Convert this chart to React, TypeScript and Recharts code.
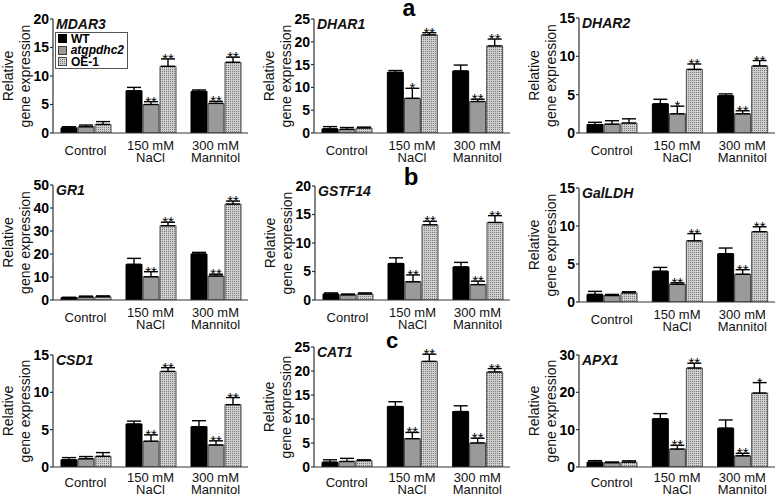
import { BarChart, Bar, XAxis, YAxis, ErrorBar, LabelList, Legend } from 'recharts';

const FONT = '"Liberation Sans", Arial, sans-serif';

const CONDITIONS = ['Control', '150 mM|NaCl', '300 mM|Mannitol'];
const GENOTYPES = ['WT', 'atgpdhc2', 'OE-1'];

// rows: WT, atgpdhc2, OE-1 ; columns: Control, NaCl, Mannitol
const MDAR3_MEAN = [[0.9, 7.4, 7.3], [1.1, 5.0, 5.2], [1.5, 11.7, 12.4]];
const MDAR3_ERR = [[0.2, 0.6, 0.25], [0.3, 0.5, 0.35], [0.5, 1.3, 0.9]];
const MDAR3_SIG = [['', '', ''], ['', '**', '**'], ['', '**', '**']];

const DHAR1_MEAN = [[0.9, 13.3, 13.6], [0.8, 7.6, 6.9], [1.1, 21.5, 19.1]];
const DHAR1_ERR = [[0.5, 0.4, 1.3], [0.4, 2.2, 0.5], [0.2, 0.5, 1.5]];
const DHAR1_SIG = [['', '', ''], ['', '*', '**'], ['', '**', '**']];

const DHAR2_MEAN = [[1.1, 3.8, 4.85], [1.15, 2.5, 2.5], [1.3, 8.3, 8.75]];
const DHAR2_ERR = [[0.3, 0.6, 0.25], [0.45, 1.0, 0.4], [0.55, 0.7, 0.7]];
const DHAR2_SIG = [['', '', ''], ['', '*', '**'], ['', '**', '**']];

const GR1_MEAN = [[1.0, 15.5, 20.0], [1.3, 10.1, 10.4], [1.4, 32.3, 41.7]];
const GR1_ERR = [[0.2, 2.6, 0.7], [0.4, 2.2, 0.8], [0.4, 1.5, 1.3]];
const GR1_SIG = [['', '', ''], ['', '**', '**'], ['', '**', '**']];

const GSTF14_MEAN = [[1.05, 6.4, 5.8], [0.9, 3.2, 2.7], [1.05, 13.2, 13.6]];
const GSTF14_ERR = [[0.2, 1.0, 0.8], [0.15, 1.2, 0.6], [0.2, 0.6, 1.2]];
const GSTF14_SIG = [['', '', ''], ['', '**', '**'], ['', '**', '**']];

const GALLDH_MEAN = [[1.0, 4.05, 6.35], [0.85, 2.33, 3.65], [1.2, 8.05, 9.25]];
const GALLDH_ERR = [[0.4, 0.5, 0.75], [0.15, 0.2, 0.6], [0.15, 0.95, 0.65]];
const GALLDH_SIG = [['', '', ''], ['', '**', '**'], ['', '**', '**']];

const CSD1_MEAN = [[0.96, 5.75, 5.4], [1.1, 3.45, 2.95], [1.43, 12.8, 8.35]];
const CSD1_ERR = [[0.3, 0.4, 0.8], [0.3, 0.85, 0.55], [0.5, 0.5, 0.95]];
const CSD1_SIG = [['', '', ''], ['', '**', '**'], ['', '**', '**']];

const CAT1_MEAN = [[1.0, 12.6, 11.55], [1.15, 5.9, 5.0], [1.35, 22.0, 19.8]];
const CAT1_ERR = [[0.5, 1.0, 1.2], [0.65, 1.3, 1.0], [0.15, 1.5, 0.7]];
const CAT1_SIG = [['', '', ''], ['', '**', '**'], ['', '**', '**']];

const APX1_MEAN = [[1.3, 12.9, 10.4], [1.15, 4.8, 3.0], [1.3, 26.5, 19.8]];
const APX1_ERR = [[0.4, 1.4, 2.2], [0.2, 1.0, 0.65], [0.35, 1.3, 2.8]];
const APX1_SIG = [['', '', ''], ['', '**', '**'], ['', '**', '*']];

const TICKS_15 = [0, 5, 10, 15];
const TICKS_20 = [0, 5, 10, 15, 20];
const TICKS_25 = [0, 5, 10, 15, 20, 25];
const TICKS_30 = [0, 10, 20, 30];
const TICKS_50 = [0, 10, 20, 30, 40, 50];

const PANEL_LETTERS = ['a', 'b', 'c'];

const panels = [
  { gene: 'MDAR3', mean: MDAR3_MEAN, err: MDAR3_ERR, sig: MDAR3_SIG, ticks: TICKS_20, x0: 53, x1: 248, top: 19, zero: 133, legend: true },
  { gene: 'DHAR1', mean: DHAR1_MEAN, err: DHAR1_ERR, sig: DHAR1_SIG, ticks: TICKS_25, x0: 314, x1: 510, top: 19, zero: 133 },
  { gene: 'DHAR2', mean: DHAR2_MEAN, err: DHAR2_ERR, sig: DHAR2_SIG, ticks: TICKS_15, x0: 579, x1: 775, top: 18, zero: 133 },
  { gene: 'GR1', mean: GR1_MEAN, err: GR1_ERR, sig: GR1_SIG, ticks: TICKS_50, x0: 53, x1: 248, top: 185, zero: 300 },
  { gene: 'GSTF14', mean: GSTF14_MEAN, err: GSTF14_ERR, sig: GSTF14_SIG, ticks: TICKS_20, x0: 315, x1: 510, top: 186, zero: 300 },
  { gene: 'GalLDH', mean: GALLDH_MEAN, err: GALLDH_ERR, sig: GALLDH_SIG, ticks: TICKS_15, x0: 579, x1: 775, top: 188, zero: 302 },
  { gene: 'CSD1', mean: CSD1_MEAN, err: CSD1_ERR, sig: CSD1_SIG, ticks: TICKS_15, x0: 53, x1: 248, top: 355, zero: 467, tight: true },
  { gene: 'CAT1', mean: CAT1_MEAN, err: CAT1_ERR, sig: CAT1_SIG, ticks: TICKS_25, x0: 314, x1: 510, top: 347, zero: 467, tight: true },
  { gene: 'APX1', mean: APX1_MEAN, err: APX1_ERR, sig: APX1_SIG, ticks: TICKS_30, x0: 579, x1: 775, top: 355, zero: 467, tight: true },
];

const letterPos = [
  { x: 409, y: 16, size: 23 },
  { x: 411, y: 185, size: 24 },
  { x: 392, y: 348, size: 22 },
];

const YW = 55;
const PAD_TOP = 12;
const XH = 40;
const KEYS = ['wt', 'atg', 'oe'];
const FILLS = ['#000', '#9a9a9a', 'dots'];
const STROKES = ['#000', '#3a3a3a', '#4a4a4a'];

function makeTick(tight: boolean) {
  return function CondTick(props: any) {
    const { x, y, payload } = props;
    const lines = String(payload.value).split('|');
    const style = { fontFamily: FONT, fontSize: 13 };
    const y1 = tight ? 12.5 : 14.5;
    const gap = tight ? 12 : 12.5;
    if (lines.length === 1) {
      return <text x={x} y={y + y1 + 5} textAnchor="middle" fill="#111" style={style}>{lines[0]}</text>;
    }
    return (
      <g>
        <text x={x} y={y + y1} textAnchor="middle" fill="#111" style={style}>{lines[0]}</text>
        <text x={x} y={y + y1 + gap} textAnchor="middle" fill="#111" style={style}>{lines[1]}</text>
      </g>
    );
  };
}

function YLabel({ bx, cy }: any) {
  const style = { fontFamily: FONT, fontSize: 14 };
  return (
    <g>
      <text transform={`rotate(-90 ${bx} ${cy})`} x={bx} y={cy} textAnchor="middle" fill="#111" style={style}>Relative</text>
      <text transform={`rotate(-90 ${bx + 16.5} ${cy})`} x={bx + 16.5} y={cy} textAnchor="middle" fill="#111" style={style}>gene expression</text>
    </g>
  );
}

function Swatch({ i }: { i: number }) {
  return (
    <svg width={9} height={9} style={{ display: 'block', marginRight: 4 }}>
      <defs>
        <pattern id={`lg-dots-${i}`} width={2} height={2} patternUnits="userSpaceOnUse">
          <rect width={2} height={2} fill="#cfcfcf" />
          <rect width={1} height={1} fill="#7a7a7a" />
        </pattern>
      </defs>
      <rect x={0.5} y={0.5} width={8} height={8} fill={FILLS[i] === 'dots' ? `url(#lg-dots-${i})` : FILLS[i]} stroke={STROKES[i]} />
    </svg>
  );
}

function LegendBox() {
  return (
    <div style={{ border: '1px solid #555', background: '#fff', padding: '0 3px 0 2px', width: 66, fontFamily: FONT }}>
      {GENOTYPES.map((g, i) => (
        <div key={g} style={{ display: 'flex', alignItems: 'center', height: 11.5 }}>
          <Swatch i={i} />
          <span style={{ fontSize: 12, fontWeight: 'bold', fontStyle: i === 1 ? 'italic' : 'normal', lineHeight: '12px' }}>{g}</span>
        </div>
      ))}
    </div>
  );
}

function Panel({ cfg, idx }: any) {
  const { gene, mean, err, sig, ticks, x0, x1, top, zero, legend, tight } = cfg;
  const max = ticks[ticks.length - 1];
  const plotH = zero - top;
  const pxPerUnit = plotH / max;
  const width = x1 - x0 + YW + 3;
  const height = plotH + PAD_TOP + XH;
  const left = x0 - YW;
  const rows = CONDITIONS.map((c, ci) => {
    const r: any = { cond: c };
    KEYS.forEach((k, gi) => {
      r[k] = mean[gi][ci];
      r[k + 'Err'] = [0, err[gi][ci]];
      r[k + 'Sig'] = sig[gi][ci];
    });
    return r;
  });
  const patId = `dots-${idx}`;
  const Tick = makeTick(!!tight);

  const star = (k: string) => (p: any) => {
    const { x, y, width: w, value, index } = p;
    if (!value) return null;
    const e = rows[index][k + 'Err'][1] * pxPerUnit;
    return (
      <text x={x + w / 2} y={y - e + 5} textAnchor="middle" fill="#000" style={{ fontFamily: FONT, fontSize: 15 }}>{value}</text>
    );
  };

  return (
    <div style={{ position: 'absolute', left, top: top - PAD_TOP }}>
      <BarChart width={width} height={height} data={rows} margin={{ top: PAD_TOP, right: 3, left: 0, bottom: 0 }} barSize={16} barGap={1}>
        <defs>
          <pattern id={patId} width={2} height={2} patternUnits="userSpaceOnUse">
            <rect width={2} height={2} fill="#cfcfcf" />
            <rect width={1} height={1} fill="#7a7a7a" />
          </pattern>
        </defs>
        <XAxis dataKey="cond" height={XH} interval={0} tick={<Tick />} tickLine={false} tickSize={0} axisLine={{ stroke: '#333', strokeWidth: 1.2 }} />
        <YAxis
          width={YW}
          domain={[0, max]}
          ticks={ticks}
          interval={0}
          allowDataOverflow
          tickSize={3}
          tickMargin={1}
          tickLine={{ stroke: '#333', strokeWidth: 1.2 }}
          axisLine={{ stroke: '#333', strokeWidth: 1.2 }}
          tick={{ fontFamily: FONT, fontSize: 14, fontWeight: 'bold', fill: '#000' }}
          label={<YLabel bx={YW - 40} cy={PAD_TOP + plotH / 2} />}
        />
        {legend && (
          <Legend layout="vertical" align="center" verticalAlign="middle" content={<LegendBox />} wrapperStyle={{ left: 55 - left, top: 32 - (top - PAD_TOP), width: 'auto' }} />
        )}
        {KEYS.map((k, gi) => (
          <Bar key={k} dataKey={k} name={GENOTYPES[gi]} fill={FILLS[gi] === 'dots' ? `url(#${patId})` : FILLS[gi]} stroke={STROKES[gi]} strokeWidth={1} isAnimationActive={false}>
            <ErrorBar dataKey={k + 'Err'} direction="y" width={7} stroke="#000" strokeWidth={1.4} isAnimationActive={false} />
            <LabelList dataKey={k + 'Sig'} content={star(k)} />
          </Bar>
        ))}
      </BarChart>
      <div style={{ position: 'absolute', left: YW + 3, top: PAD_TOP - 2, fontFamily: FONT, fontSize: 14, fontWeight: 'bold', fontStyle: 'italic', lineHeight: '14px', color: '#111' }}>
        {gene}
      </div>
    </div>
  );
}

export default function App() {
  return (
    <div style={{ position: 'fixed', left: 0, top: 0, width: 778, height: 496, background: '#fff', overflow: 'hidden' }}>
      {panels.map((p, i) => (
        <Panel key={p.gene} cfg={p} idx={i} />
      ))}
      <svg width={778} height={496} style={{ position: 'absolute', left: 0, top: 0, pointerEvents: 'none' }}>
        {PANEL_LETTERS.map((l, i) => (
          <text key={l} x={letterPos[i].x} y={letterPos[i].y} textAnchor="middle" fill="#000" style={{ fontFamily: FONT, fontSize: letterPos[i].size, fontWeight: 'bold' }}>{l}</text>
        ))}
      </svg>
    </div>
  );
}
